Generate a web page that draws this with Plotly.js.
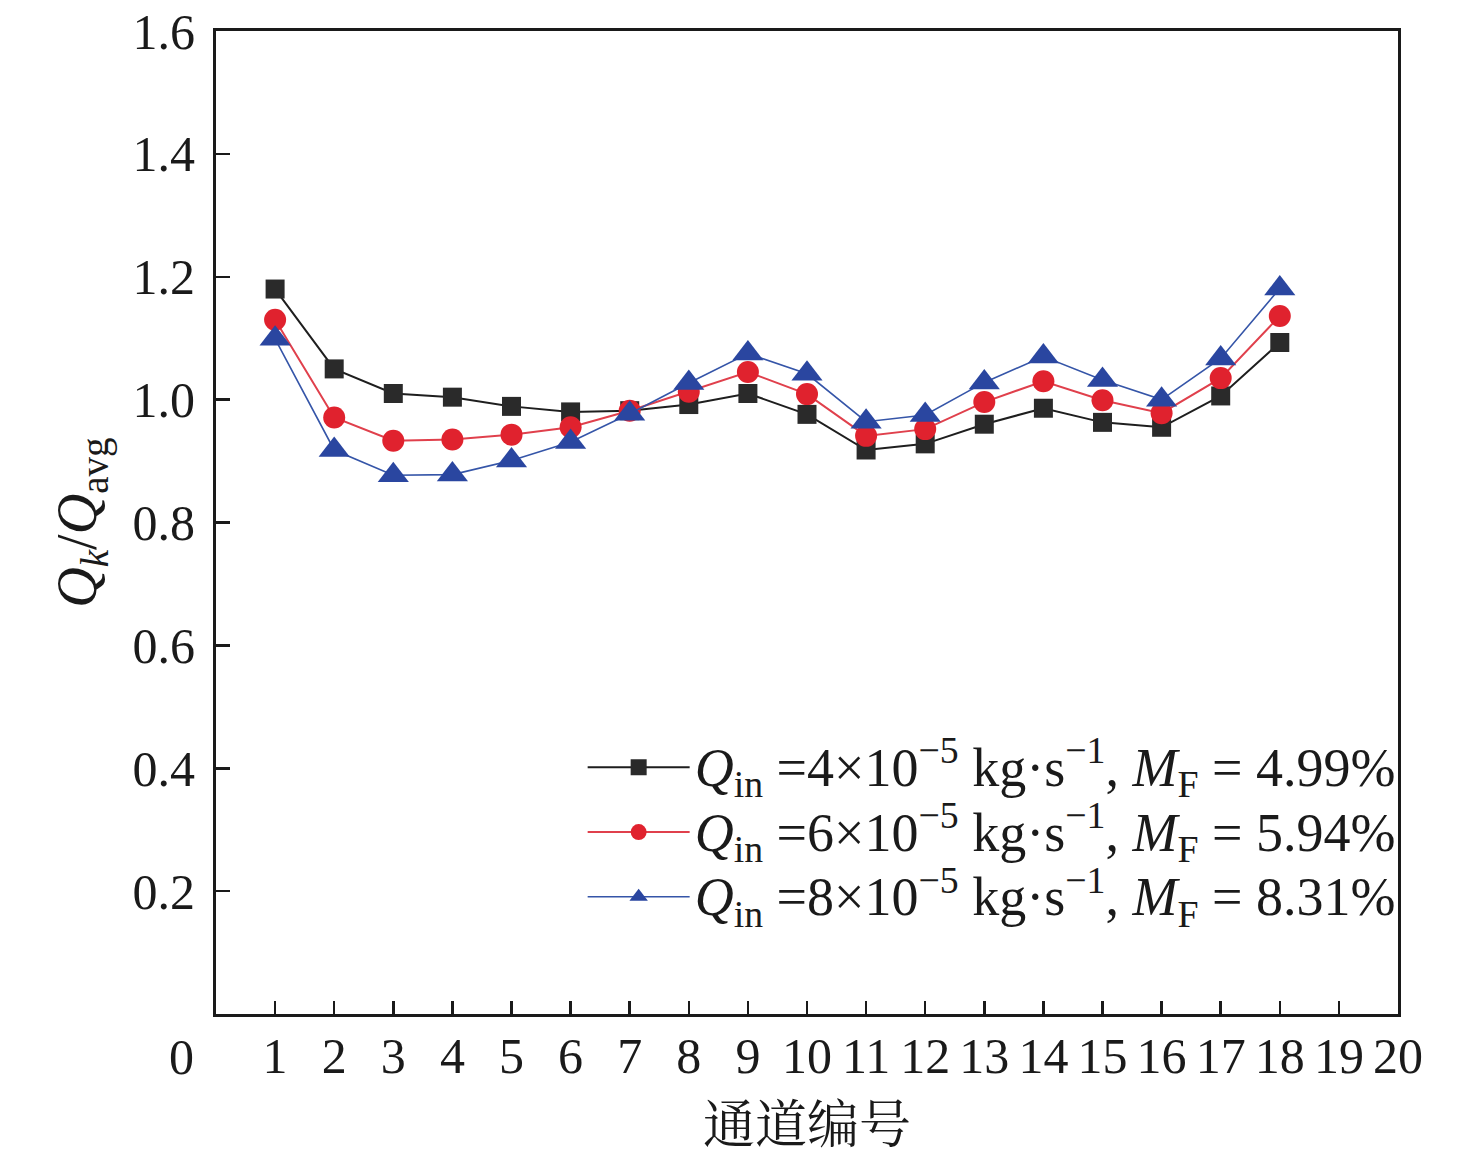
<!DOCTYPE html>
<html>
<head>
<meta charset="utf-8">
<script src="https://cdn.plot.ly/plotly-3.0.1.min.js"></script>
<style>html,body{margin:0;padding:0;background:#fff;}#chart{width:1476px;height:1156px;}</style>
</head>
<body>
<div id="chart"></div>
<script>
const channels = [1,2,3,4,5,6,7,8,9,10,11,12,13,14,15,16,17,18];
const seriesQ4 = [1.180,1.050,1.010,1.004,0.989,0.980,0.982,0.992,1.010,0.976,0.918,0.928,0.960,0.986,0.963,0.955,1.006,1.093];
const seriesQ6 = [1.130,0.971,0.933,0.935,0.943,0.955,0.982,1.013,1.045,1.009,0.941,0.952,0.996,1.030,0.999,0.978,1.035,1.136];
const seriesQ8 = [1.099,0.918,0.877,0.878,0.901,0.931,0.977,1.027,1.075,1.042,0.964,0.975,1.028,1.070,1.032,1.000,1.067,1.181];
const legendNames = [
  '<i>Q</i><sub>in</sub> =4×10<sup>−5</sup> kg·s<sup>−1</sup>, <i>M</i><sub>F</sub> = 4.99%',
  '<i>Q</i><sub>in</sub> =6×10<sup>−5</sup> kg·s<sup>−1</sup>, <i>M</i><sub>F</sub> = 5.94%',
  '<i>Q</i><sub>in</sub> =8×10<sup>−5</sup> kg·s<sup>−1</sup>, <i>M</i><sub>F</sub> = 8.31%'
];
const xTickVals = [1,2,3,4,5,6,7,8,9,10,11,12,13,14,15,16,17,18,19,20];
const xTickText = ['1','2','3','4','5','6','7','8','9','10','11','12','13','14','15','16','17','18','19','20'];
const yTickVals = [0.2,0.4,0.6,0.8,1.0,1.2,1.4,1.6];
const yTickText = ['0.2','0.4','0.6','0.8','1.0','1.2','1.4','1.6'];
const xTitle = '通道编号';
const yTitle = '<i>Q</i><sub><i>k</i></sub>/<i>Q</i><sub>avg</sub>';

const SERIF = '"Liberation Serif", "Times New Roman", serif';
const CJK = '"Liberation Serif", "Noto Serif CJK SC", "Noto Sans CJK SC", serif';

const bigText = s => '<span style="font-size:54px">' + s + '</span>';

const traces = [
  {x: channels, y: seriesQ4, name: bigText(legendNames[0]), type: 'scatter', mode: 'lines+markers',
   line: {color: '#1e1e1e', width: 2},
   marker: {symbol: 'square', size: 19, color: '#2a2a2a'}},
  {x: channels, y: seriesQ6, name: bigText(legendNames[1]), type: 'scatter', mode: 'lines+markers',
   line: {color: '#e0404c', width: 2},
   marker: {symbol: 'circle', size: 22, color: '#e0222e'}},
  {x: channels, y: seriesQ8, name: bigText(legendNames[2]), type: 'scatter', mode: 'lines+markers',
   line: {color: '#3555a8', width: 1.6},
   marker: {symbol: 'triangle-up', size: 27, color: '#2a46a0'}}
];

const layout = {
  width: 1476, height: 1156,
  paper_bgcolor: '#ffffff', plot_bgcolor: '#ffffff',
  margin: {l: 216, r: 78, t: 31, b: 142, pad: 0},
  font: {family: SERIF, size: 50, color: '#1a1a1a'},
  showlegend: true,
  legend: {
    x: 0.3102, xanchor: 'left', y: 0.289, yanchor: 'top',
    bgcolor: 'rgba(0,0,0,0)', borderwidth: 0,
    font: {family: SERIF, size: 47.5, color: '#1a1a1a'},
    itemwidth: 102, tracegroupgap: 0
  },
  xaxis: {
    range: [0, 20], tickmode: 'array', tickvals: xTickVals, ticktext: xTickText,
    ticks: 'inside', ticklen: 13, tickwidth: 2.5, tickcolor: '#1a1a1a',
    showline: true, linewidth: 3, linecolor: '#1a1a1a', mirror: true,
    showgrid: false, zeroline: false,
    tickfont: {family: SERIF, size: 50, color: '#1a1a1a'},
    ticklabelstandoff: -4,
    title: {text: xTitle, font: {family: CJK, size: 52, color: '#1a1a1a'}, standoff: 24}
  },
  yaxis: {
    range: [0, 1.6], tickmode: 'array', tickvals: yTickVals, ticktext: yTickText,
    ticks: 'inside', ticklen: 14, tickwidth: 2.5, tickcolor: '#1a1a1a',
    showline: true, linewidth: 3, linecolor: '#1a1a1a', mirror: true,
    showgrid: false, zeroline: false,
    tickfont: {family: SERIF, size: 50, color: '#1a1a1a'},
    ticklabelstandoff: 8,
    title: {text: yTitle, font: {family: SERIF, size: 56, color: '#1a1a1a'}, standoff: 18}
  },
  annotations: [
    {text: '0', xref: 'paper', yref: 'paper', x: -0.029, y: -0.044,
     xanchor: 'center', yanchor: 'middle', showarrow: false,
     font: {family: SERIF, size: 50, color: '#1a1a1a'}}
  ]
};

Plotly.newPlot('chart', traces, layout, {displayModeBar: false, staticPlot: true});
</script>
</body>
</html>
